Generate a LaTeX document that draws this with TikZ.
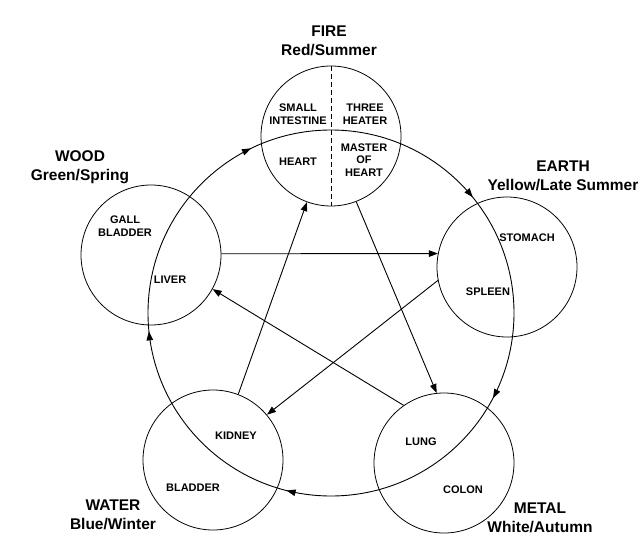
\documentclass[tikz,border=0pt]{standalone}
\usepackage{fontspec}
\setmainfont{Liberation Sans}
\usetikzlibrary{arrows.meta,decorations.markings}
\begin{document}
\begin{tikzpicture}[
x=1pt,y=-1pt,
%scale=.8, every node/.style={scale=0.8},
element/.style={circle,draw,line width=0.8pt,minimum size=140pt,inner sep=0pt},
organ/.style={font=\fontsize{11}{12.5}\selectfont\bfseries,align=center,inner sep=0pt},
season/.style={font=\fontsize{15.5}{19}\selectfont\bfseries,align=center,inner sep=0pt},
ke/.style={line width=0.9pt,-{Triangle[length=9pt,width=6.5pt]}},
%ke/.style={line width=0.9pt,-Latex},
]
\useasboundingbox (0,0) rectangle (643,554);
% the five elements
\node [element] (fire) at (331,136) {};
\node [element] (earth) at (507,267) {};
\node [element] (metal) at (444,463) {};
\node [element] (water) at (213,460) {};
\node [element] (wood) at (151,255) {};
\draw [line width=0.8pt,dash pattern=on 5pt off 3pt] (fire.north) -- (fire.south);
% generating cycle
\coordinate (hub) at (331,313);
\draw [line width=0.9pt,postaction={decorate},decoration={markings,
	mark=at position 0.109 with {\arrowreversed{Triangle[length=9pt,width=6.5pt]}},
	mark=at position 0.322 with {\arrowreversed{Triangle[length=9pt,width=6.5pt]}},
	mark=at position 0.516 with {\arrowreversed{Triangle[length=9pt,width=6.5pt]}},
	mark=at position 0.711 with {\arrowreversed{Triangle[length=9pt,width=6.5pt]}},
	mark=at position 0.923 with {\arrowreversed{Triangle[length=9pt,width=6.5pt]}}}]
	(hub) circle [radius=183pt];
% controlling cycle
\draw [ke] (wood.1) -- (earth.169);
\draw [ke] (earth.191) -- (water.40);
\draw [ke] (water.69) -- (fire.250);
\draw [ke] (fire.291) -- (metal.96);
\draw [ke] (metal.125) -- (wood.331);
% names
\node [season] (firename) at (329,41) {FIRE\\Red/Summer};
\node [season] (earthname) at (563,176) {EARTH\\Yellow/Late Summer};
\node [season] (metalname) at (540,518) {METAL\\White/Autumn};
\node [season] (watername) at (113,515) {WATER\\Blue/Winter};
\node [season] (woodname) at (80,167) {WOOD\\Green/Spring};
% organs
\node [organ] (smallint) at (298,114) {SMALL\\INTESTINE};
\node [organ] (threeheat) at (365,114) {THREE\\HEATER};
\node [organ] (heart) at (298,162) {HEART};
\node [organ] (master) at (364,160) {MASTER\\OF\\HEART};
\node [organ] (stomach) at (527,238) {STOMACH};
\node [organ] (spleen) at (488,292) {SPLEEN};
\node [organ] (lung) at (421,442) {LUNG};
\node [organ] (colon) at (463,490) {COLON};
\node [organ] (kidney) at (236,436) {KIDNEY};
\node [organ] (bladder) at (193,488) {BLADDER};
\node [organ] (gall) at (125,226) {GALL\\BLADDER};
\node [organ] (liver) at (170,280) {LIVER};
\end{tikzpicture}
\end{document}
